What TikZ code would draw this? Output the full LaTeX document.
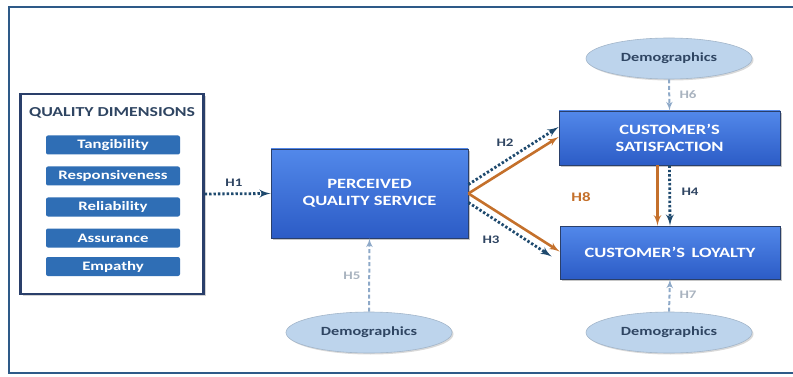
\documentclass[tikz,border=0pt]{standalone}
\usepackage{fontspec}
\setmainfont{Carlito}[FakeStretch=1.3]
\usetikzlibrary{arrows,shapes.geometric,shadows}

\definecolor{framecol}{HTML}{2E5A88}
\definecolor{navy}{HTML}{1F4A6E}
\definecolor{ochre}{HTML}{C4702B}
\definecolor{paleline}{HTML}{8EA9C8}
\definecolor{palelabel}{HTML}{A9B3BF}
\definecolor{boxtop}{HTML}{5288EA}
\definecolor{boxbot}{HTML}{2C5CC6}
\definecolor{boxline}{HTML}{2A3F6A}
\definecolor{dimfill}{HTML}{2F6EB5}
\definecolor{ellfill}{HTML}{BDD4EC}
\definecolor{ellline}{HTML}{A3B6CA}
\definecolor{titlecol}{HTML}{2F4562}

\begin{document}
\begin{tikzpicture}[x=1pt,y=-1pt]
    \tikzset{
        bigbox/.style={rectangle, draw=boxline, line width=0.8pt, top color=boxtop, bottom color=boxbot,
            text=white, font=\bfseries\fontsize{14.2}{17}\selectfont, align=center,
            drop shadow={opacity=0.45, shadow xshift=2pt, shadow yshift=-2pt}},
        dimbox/.style={rectangle, rounded corners=2pt, fill=dimfill, text=white,
            font=\bfseries\fontsize{12.9}{14}\selectfont, minimum width=134pt, minimum height=19pt, inner sep=0pt},
        demo/.style={ellipse, draw=ellline, line width=0.6pt, fill=ellfill, text=titlecol,
            font=\bfseries\fontsize{12.5}{14}\selectfont, minimum width=166pt, minimum height=41pt, inner sep=0pt,
            drop shadow={opacity=0.3, shadow xshift=1.5pt, shadow yshift=-1.5pt}},
        hyp/.style={font=\bfseries\fontsize{11.5}{13}\selectfont, text=titlecol},
        palehyp/.style={font=\bfseries\fontsize{11.5}{13}\selectfont, text=palelabel},
        dotedge/.style={->, >=latex', draw=navy, line width=2.8pt, dash pattern=on 2.4pt off 2pt},
        solidedge/.style={->, >=latex', draw=ochre, line width=2.6pt},
        paleedge/.style={->, >=latex', draw=paleline, line width=2pt, dash pattern=on 4pt off 2.5pt}
    }
    \useasboundingbox (0,0) rectangle (793,377);
    % frame
    \draw[framecol, line width=1.6pt] (793,7) -- (9,7) -- (9,373) -- (793,373);

    % quality dimensions
    \node[rectangle, draw=boxline, line width=2.4pt, fill=white, minimum width=183pt, minimum height=200pt,
        drop shadow={opacity=0.35, shadow xshift=2pt, shadow yshift=-2pt}] (qd) at (112,194) {};
    \node[text=titlecol, font=\bfseries\fontsize{13.7}{16}\selectfont] (qdtitle) at (112,113) {QUALITY DIMENSIONS};
    \node[dimbox] (tan) at (113,145) {Tangibility};
    \node[dimbox] (res) at (113,176) {Responsiveness};
    \node[dimbox] (rel) at (113,207) {Reliability};
    \node[dimbox] (ass) at (113,238) {Assurance};
    \node[dimbox] (emp) at (113,266.5) {Empathy};

    % constructs
    \node[bigbox, minimum width=197pt, minimum height=89pt] (pqs) at (369.5,193.5) {PERCEIVED\\QUALITY SERVICE};
    \node[bigbox, minimum width=221pt, minimum height=54pt] (sat) at (669.5,138) {CUSTOMER'S\\SATISFACTION};
    \node[bigbox, minimum width=220pt, minimum height=53pt] (loy) at (670,252.5) {CUSTOMER'S \,LOYALTY};

    % demographics
    \node[demo] (demsat) at (669,58.5) {Demographics};
    \node[demo] (dempqs) at (369,332.5) {Demographics};
    \node[demo] (demloy) at (669,332.5) {Demographics};

    %edges
    \draw[dotedge] (qd.east) -- (pqs.west);
    \draw[dotedge] ([yshift=9pt]pqs.east) -- ([yshift=11pt]sat.west);
    \draw[dotedge] ([yshift=-9pt]pqs.east) -- ([xshift=-8pt,yshift=-4pt]loy.west);
    \draw[solidedge] (pqs.east) -- ([yshift=1pt]sat.west);
    \draw[solidedge] (pqs.east) -- ([yshift=1pt]loy.west);
    \draw[dotedge] (sat.south) -- (loy.north);
    \draw[solidedge] ([xshift=-12pt]sat.south) -- ([xshift=-12.5pt]loy.north);
    \draw[paleedge] (demsat.south) -- (sat.north);
    \draw[paleedge] (dempqs.north) -- (pqs.south);
    \draw[paleedge] (demloy.north) -- (loy.south);

    % labels
    \node[hyp] (h1) at (234,183) {H1};
    \node[hyp] (h2) at (505,143) {H2};
    \node[hyp] (h3) at (491,240) {H3};
    \node[hyp] (h4) at (690,192) {H4};
    \node[palehyp] (h5) at (352,276) {H5};
    \node[palehyp] (h6) at (688,95) {H6};
    \node[palehyp] (h7) at (688,295) {H7};
    \node[hyp, text=ochre, font=\bfseries\fontsize{13}{15}\selectfont] (h8) at (581,197) {H8};
\end{tikzpicture}
\end{document}
